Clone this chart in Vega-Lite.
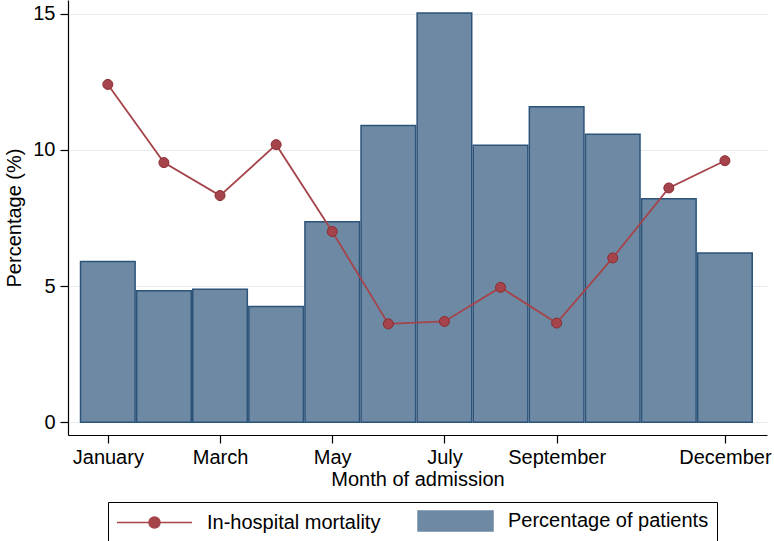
{
  "$schema": "https://vega.github.io/schema/vega-lite/v6.json",
  "width": 699,
  "height": 435,
  "autosize": {"type": "none"},
  "padding": {"left": 68, "top": 0, "right": 7, "bottom": 106},
  "background": "white",
  "data": {
    "values": [
      {"month": 1, "pct": 5.90, "mort": 12.40},
      {"month": 2, "pct": 4.83, "mort": 9.53},
      {"month": 3, "pct": 4.88, "mort": 8.32},
      {"month": 4, "pct": 4.25, "mort": 10.19},
      {"month": 5, "pct": 7.36, "mort": 7.00},
      {"month": 6, "pct": 10.89, "mort": 3.61},
      {"month": 7, "pct": 15.02, "mort": 3.70},
      {"month": 8, "pct": 10.17, "mort": 4.95},
      {"month": 9, "pct": 11.58, "mort": 3.64},
      {"month": 10, "pct": 10.57, "mort": 6.03},
      {"month": 11, "pct": 8.20, "mort": 8.60},
      {"month": 12, "pct": 6.21, "mort": 9.60}
    ]
  },
  "encoding": {
    "x": {
      "field": "month",
      "type": "quantitative",
      "scale": {"domain": [0.29, 12.75], "nice": false, "zero": false, "padding": 0},
      "axis": {
        "values": [1, 3, 5, 7, 9, 12],
        "labelExpr": "['','January','February','March','April','May','June','July','August','September','October','November','December'][datum.value]",
        "title": "Month of admission",
        "grid": false,
        "tickSize": 8,
        "labelPadding": 4,
        "titlePadding": 2,
        "labelFlush": false,
        "labelOverlap": false
      }
    }
  },
  "layer": [
    {
      "mark": {"type": "bar", "size": 54.6, "stroke": "#2c5378", "strokeWidth": 1.5, "opacity": 1},
      "encoding": {
        "y": {
          "field": "pct",
          "type": "quantitative",
          "scale": {"domain": [-0.47, 15.5], "nice": false, "zero": false},
          "axis": {
            "values": [0, 5, 10, 15],
            "title": "Percentage (%)",
            "grid": true,
            "gridColor": "#e6edf1",
            "gridWidth": 1.2,
            "tickSize": 8,
            "labelPadding": 5,
            "titlePadding": 8,
            "labelAngle": 0
          }
        },
        "y2": {"datum": 0},
        "color": {
          "datum": "Percentage of patients",
          "scale": {
            "domain": ["In-hospital mortality", "Percentage of patients"],
            "range": ["#a5444a", "#6d89a4"]
          },
          "legend": {
            "title": null,
            "encode": {
              "symbols": {
                "update": {
                  "shape": {"signal": "datum.value === 'In-hospital mortality' ? 'M-1,0L6.5,0M3.3,0A0.55,0.55,0,1,1,2.2,0A0.55,0.55,0,1,1,3.3,0Z' : 'M-1,-1L6.5,-1L6.5,1L-1,1Z'"},
                  "fill": {"signal": "datum.value === 'In-hospital mortality' ? '#a83c44' : '#6d89a4'"},
                  "stroke": {"signal": "datum.value === 'In-hospital mortality' ? '#a5444a' : '#2c5378'"},
                  "strokeWidth": {"value": 1.5},
                  "opacity": {"value": 1}
                }
              }
            }
          }
        }
      }
    },
    {
      "mark": {"type": "line", "strokeWidth": 1.8},
      "encoding": {
        "y": {"field": "mort", "type": "quantitative"},
        "color": {
          "datum": "In-hospital mortality",
          "legend": {
            "title": null,
            "encode": {
              "symbols": {
                "update": {
                  "shape": {"signal": "datum.value === 'In-hospital mortality' ? 'M-1,0L6.5,0M3.3,0A0.55,0.55,0,1,1,2.2,0A0.55,0.55,0,1,1,3.3,0Z' : 'M-1,-1L6.5,-1L6.5,1L-1,1Z'"},
                  "fill": {"signal": "datum.value === 'In-hospital mortality' ? '#a83c44' : '#6d89a4'"},
                  "stroke": {"signal": "datum.value === 'In-hospital mortality' ? '#a5444a' : '#2c5378'"},
                  "strokeWidth": {"value": 1.5},
                  "opacity": {"value": 1}
                }
              }
            }
          }
        }
      }
    },
    {
      "mark": {"type": "point", "filled": true, "size": 100, "stroke": "#8c2a31", "strokeWidth": 1, "opacity": 1},
      "encoding": {
        "y": {"field": "mort", "type": "quantitative"},
        "color": {
          "datum": "In-hospital mortality",
          "legend": {
            "title": null,
            "encode": {
              "symbols": {
                "update": {
                  "shape": {"signal": "datum.value === 'In-hospital mortality' ? 'M-1,0L6.5,0M3.3,0A0.55,0.55,0,1,1,2.2,0A0.55,0.55,0,1,1,3.3,0Z' : 'M-1,-1L6.5,-1L6.5,1L-1,1Z'"},
                  "fill": {"signal": "datum.value === 'In-hospital mortality' ? '#a83c44' : '#6d89a4'"},
                  "stroke": {"signal": "datum.value === 'In-hospital mortality' ? '#a5444a' : '#2c5378'"},
                  "strokeWidth": {"value": 1.5},
                  "opacity": {"value": 1}
                }
              }
            }
          }
        }
      }
    }
  ],
  "config": {
    "font": "Liberation Sans",
    "view": {"stroke": null},
    "axis": {
      "labelFont": "Liberation Sans",
      "titleFont": "Liberation Sans",
      "labelFontSize": 20,
      "titleFontSize": 20,
      "titleFontWeight": "normal",
      "labelColor": "#000",
      "titleColor": "#000",
      "domainColor": "#000",
      "tickColor": "#000",
      "domainWidth": 1.2,
      "tickWidth": 1.2
    },
    "legend": {
      "orient": "none",
      "legendX": 40,
      "legendY": 502,
      "direction": "horizontal",
      "strokeColor": "#000",
      "padding": 8,
      "labelFont": "Liberation Sans",
      "labelFontSize": 20,
      "labelColor": "#000",
      "labelLimit": 400,
      "symbolSize": 400,
      "labelOffset": 69,
      "columnPadding": 34,
      "symbolStrokeWidth": 1.5
    }
  }
}
